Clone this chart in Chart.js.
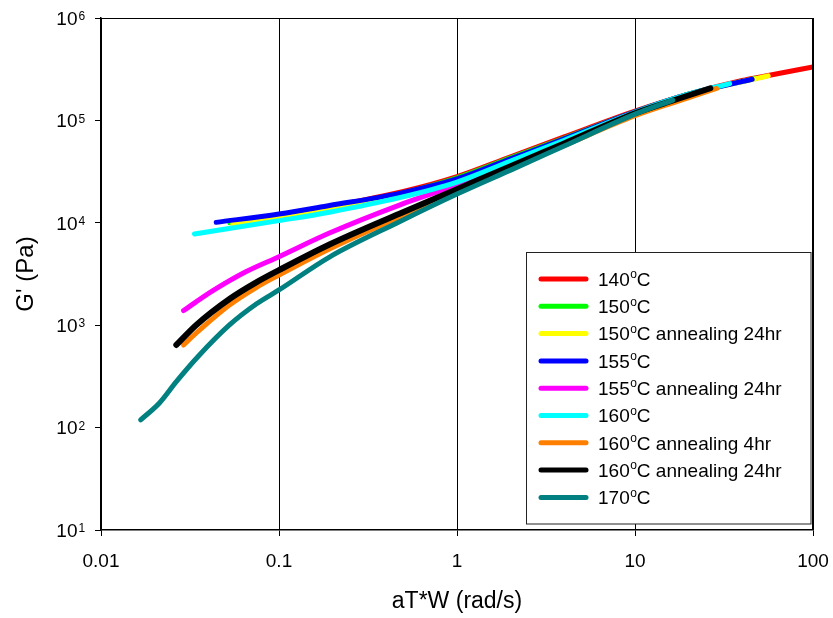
<!DOCTYPE html>
<html>
<head>
<meta charset="utf-8">
<script src="https://cdn.jsdelivr.net/npm/chart.js@4.4.1/dist/chart.umd.min.js"></script>
<style>
  body { margin: 0; background: #fff; }
  #wrap { width: 833px; height: 618px; }
</style>
</head>
<body>
<div id="wrap"><canvas id="chart"></canvas></div>
<script>
const FONT = '"Liberation Sans", Arial, sans-serif';

const labels = ['140°C', '150°C', '150°C annealing 24hr', '155°C', '155°C annealing 24hr',
  '160°C', '160°C annealing 4hr', '160°C annealing 24hr', '170°C'];
const colors = ['#ff0000', '#00ff00', '#ffff00', '#0000ff', '#ff00ff',
  '#00ffff', '#ff8000', '#000000', '#008080'];

// aT*W (rad/s) and G' (Pa) for each temperature
const w140 = [0.1, 0.2, 0.5, 1, 2, 4, 10, 20, 40, 56, 100];
const g140 = [11000, 14500, 20200, 28200, 44100, 68900, 123000, 180000, 245000, 274000, 333000];
const w150 = [0.053, 0.1, 0.2, 0.5, 1, 2, 4, 10, 20, 48];
const g150 = [10000, 11600, 14200, 19600, 27500, 43000, 66800, 121000, 180000, 258000];
const w150a = [0.055, 0.1, 0.2, 0.5, 1, 2, 4, 10, 20, 56];
const g150a = [9700, 11000, 13500, 18600, 26300, 41400, 65200, 119000, 180000, 272000];
const w155 = [0.0444, 0.1, 0.192, 0.475, 1, 2, 4, 10, 20, 45.5];
const g155 = [10100, 12200, 14750, 19400, 26800, 42100, 66000, 121000, 180000, 252000];
const w155a = [0.0291, 0.0423, 0.0655, 0.1, 0.192, 0.475, 1, 2, 4, 10, 25];
const g155a = [1390, 2160, 3340, 4670, 7940, 14900, 23400, 37800, 61000, 117500, 200000];
const w160 = [0.0335, 0.1, 0.192, 0.475, 1, 2, 4, 10, 20, 34];
const g160 = [7780, 10500, 12700, 17600, 25000, 40000, 64000, 120000, 180000, 229000];
const w160a4 = [0.0291, 0.0343, 0.0527, 0.0745, 0.1, 0.192, 0.475, 1, 2, 4, 10, 17, 28.7];
const g160a4 = [641, 839, 1575, 2335, 3090, 5550, 11400, 20900, 34500, 57000, 111000, 152000, 205000];
const w160a24 = [0.0265, 0.0343, 0.0527, 0.0745, 0.1, 0.192, 0.475, 1, 2, 4, 10, 17, 26.5];
const g160a24 = [641, 1005, 1803, 2620, 3450, 6140, 12280, 21300, 35700, 59600, 117500, 160000, 206000];
const w170 = [0.0167, 0.0213, 0.0265, 0.035, 0.0527, 0.0745, 0.1, 0.192, 0.475, 1, 2, 4, 10, 16.3];
const g170 = [119, 174, 281, 492, 1005, 1610, 2210, 4630, 10250, 19100, 32700, 56200, 115000, 158000];

const freqs = [w140, w150, w150a, w155, w155a, w160, w160a4, w160a24, w170];
const moduli = [g140, g150, g150a, g155, g155a, g160, g160a4, g160a24, g170];

const xTicks = [0.01, 0.1, 1, 10, 100];
const yTicks = [10, 100, 1000, 10000, 100000, 1000000];

// text with a raised small "o" in place of the degree sign
function drawDegText(ctx, text, x, y, size) {
  const parts = text.split('°');
  ctx.textAlign = 'left';
  ctx.textBaseline = 'alphabetic';
  ctx.font = size + 'px ' + FONT;
  ctx.fillText(parts[0], x, y);
  let cx = x + ctx.measureText(parts[0]).width;
  if (parts.length > 1) {
    ctx.font = Math.round(size * 0.63) + 'px ' + FONT;
    ctx.fillText('o', cx + 0.5, y - size * 0.4);
    cx += ctx.measureText('o').width + 0.5;
    ctx.font = size + 'px ' + FONT;
    ctx.fillText(parts[1], cx, y);
  }
}

const decor = {
  id: 'decor',
  afterDraw(chart) {
    const { ctx, chartArea: a, scales: { y } } = chart;
    ctx.save();
    ctx.strokeStyle = '#000';
    ctx.lineWidth = 1;
    ctx.beginPath();
    ctx.moveTo(a.left, a.top + 0.5);
    ctx.lineTo(a.right, a.top + 0.5);
    ctx.moveTo(a.right - 0.5, a.top);
    ctx.lineTo(a.right - 0.5, a.bottom);
    ctx.stroke();

    // y tick labels as powers of ten
    ctx.fillStyle = '#000';
    yTicks.forEach((v) => {
      const py = y.getPixelForValue(v);
      ctx.font = '19px ' + FONT;
      ctx.textAlign = 'right';
      ctx.textBaseline = 'alphabetic';
      ctx.fillText('10', 77.5, py + 6.8);
      ctx.font = '12px ' + FONT;
      ctx.textAlign = 'left';
      ctx.fillText(String(Math.round(Math.log10(v))), 78.5, py + 2.2);
    });

    // legend box
    const bx = 526.5, by = 252.5, bw = 284.5, bh = 271.5;
    ctx.fillStyle = '#fff';
    ctx.fillRect(bx, by, bw, bh);
    ctx.strokeStyle = '#222';
    ctx.strokeRect(bx, by, bw, bh);
    labels.forEach((label, i) => {
      const ry = 279 + i * 27.3;
      ctx.strokeStyle = colors[i];
      ctx.lineWidth = 5;
      ctx.lineCap = 'round';
      ctx.beginPath();
      ctx.moveTo(541, ry);
      ctx.lineTo(586, ry);
      ctx.stroke();
      ctx.fillStyle = '#000';
      drawDegText(ctx, label, 598, ry + 6.8, 19);
    });
    ctx.restore();
  }
};

const datasets = labels.map((label, i) => ({
  label,
  data: freqs[i].map((x, j) => ({ x, y: moduli[i][j] })),
  borderColor: colors[i],
  backgroundColor: colors[i],
  borderWidth: i === 7 ? 6 : 5,
  borderCapStyle: 'round',
  borderJoinStyle: 'round',
  pointRadius: 0,
  cubicInterpolationMode: 'monotone',
  fill: false,
  order: labels.length - 1 - i
}));

new Chart(document.getElementById('chart'), {
  type: 'line',
  data: { datasets },
  options: {
    responsive: true,
    maintainAspectRatio: false,
    animation: false,
    layout: { padding: { top: 18, right: 20, left: 0, bottom: 0 } },
    plugins: { legend: { display: false }, tooltip: { enabled: false } },
    scales: {
      x: {
        type: 'logarithmic',
        min: 0.01,
        max: 100,
        afterBuildTicks: (s) => { s.ticks = xTicks.map((v) => ({ value: v })); },
        afterFit: (s) => { s.height = 88; s.paddingLeft = 0; s.paddingRight = 0; },
        ticks: {
          autoSkip: false,
          maxRotation: 0,
          padding: 14,
          color: '#000',
          font: { family: FONT, size: 19 },
          callback: (v) => String(v)
        },
        grid: { color: '#000', lineWidth: 1, tickLength: 6 },
        border: { color: '#000', width: 1.5 },
        title: {
          display: true,
          text: 'aT*W (rad/s)',
          color: '#000',
          font: { family: FONT, size: 23 },
          padding: { top: 0, bottom: 3 }
        }
      },
      y: {
        type: 'logarithmic',
        min: 10,
        max: 1000000,
        afterBuildTicks: (s) => { s.ticks = yTicks.map((v) => ({ value: v })); },
        afterFit: (s) => { s.width = 101; s.paddingTop = 0; s.paddingBottom = 0; },
        ticks: { callback: () => '' },
        grid: { drawOnChartArea: false, color: '#000', tickLength: 6 },
        border: { color: '#000', width: 1.5 },
        title: {
          display: true,
          text: "G' (Pa)",
          color: '#000',
          font: { family: FONT, size: 24 },
          padding: { top: 12, bottom: 0 }
        }
      }
    }
  },
  plugins: [decor]
});
</script>
</body>
</html>
